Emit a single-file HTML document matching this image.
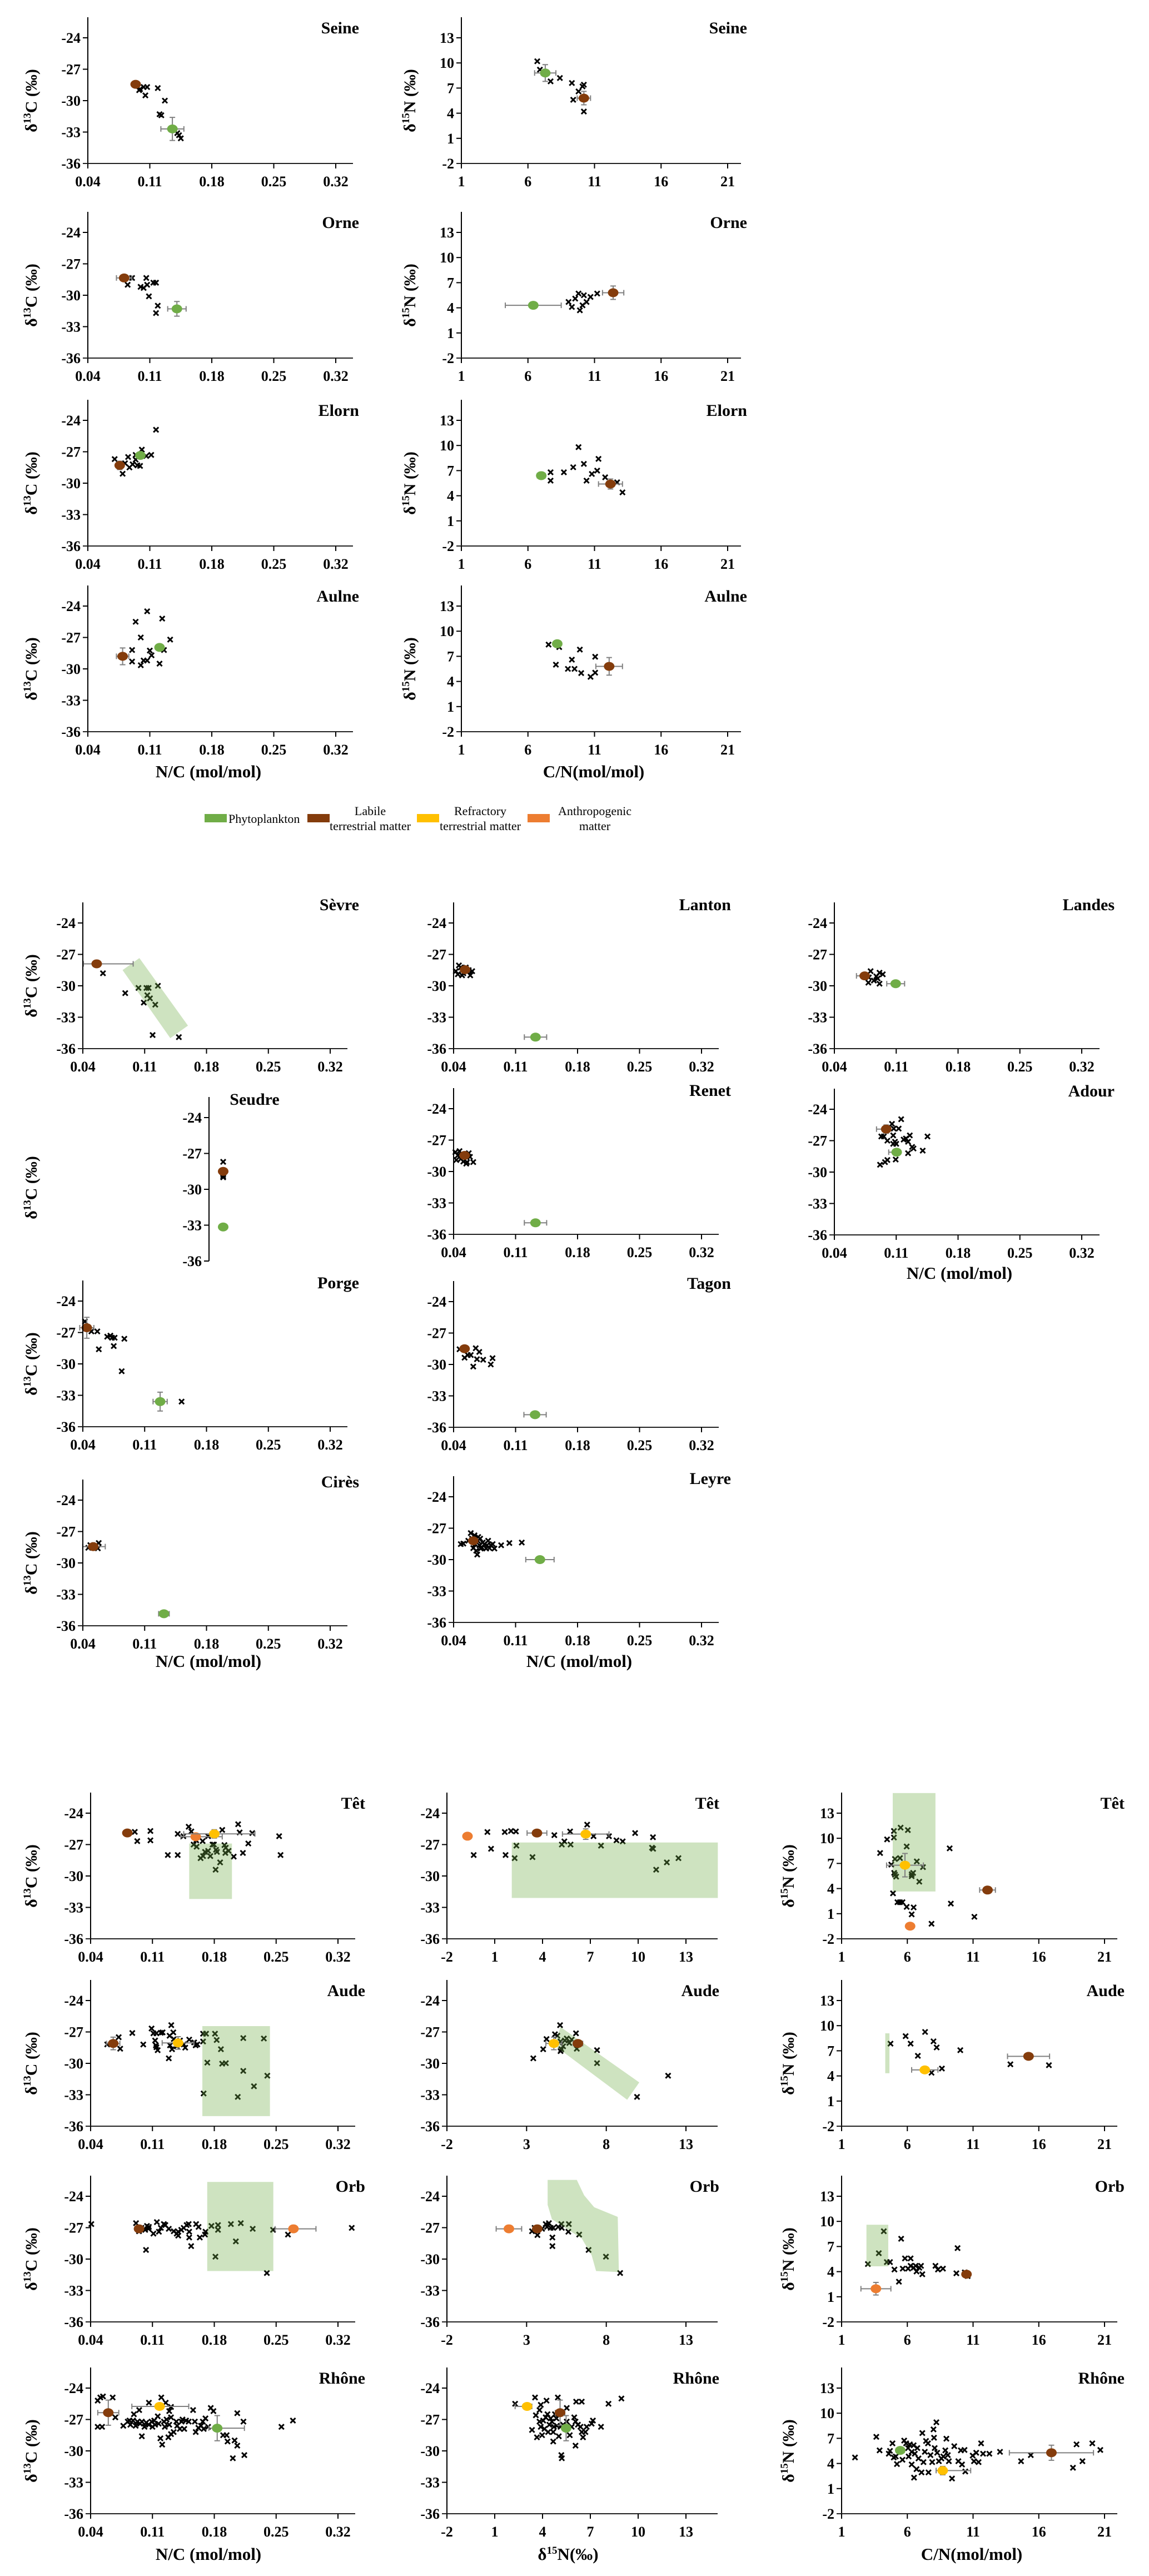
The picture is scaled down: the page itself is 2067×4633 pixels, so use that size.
<!DOCTYPE html>
<html><head><meta charset="utf-8"><title>Isotope panels</title>
<style>
html,body{margin:0;padding:0;background:#fff;}
svg{display:block;}
text{font-family:"Liberation Serif","Times New Roman",serif;}
</style></head>
<body>
<svg id="fig" width="2067" height="4633" viewBox="0 0 2067 4633" xmlns="http://www.w3.org/2000/svg"></svg>
<script>
// ---------- tick label arrays ----------
const ncTicks = [0.04, 0.11, 0.18, 0.25, 0.32];
const cnTicks = [1, 6, 11, 16, 21];
const d15TicksA = [-2, 1, 4, 7, 10, 13];
const d15TicksB = [-2, 3, 8, 13];
const c13Ticks = [-24, -27, -30, -33, -36];
const n15Ticks = [13, 10, 7, 4, 1, -2];

// ---------- data: crosses [x,y]; sources [type,x,y,exLeft,exRight,ey]; bands [[x,y]...] ----------
const seineNC = [[0.098,-29.0],[0.099,-28.9],[0.103,-28.7],[0.107,-28.7],[0.105,-29.5],[0.119,-28.8],[0.127,-30.0],[0.121,-31.3],[0.123,-31.4],[0.141,-33.1],[0.143,-33.3],[0.145,-33.6]];
const seineNCSrc = [["labile",0.094,-28.44,0,0,0],["phyto",0.1355,-32.7,0.013,0.013,1.1]];
const seineCN = [[6.7,10.2],[6.9,9.2],[7.7,7.8],[8.4,8.2],[9.3,7.6],[9.8,6.6],[10.1,7.2],[10.2,7.4],[9.4,5.6],[10.2,4.2]];
const seineCNSrc = [["phyto",7.3,8.8,0.8,0.8,1.0],["labile",10.2,5.8,0.5,0.5,0.8]];
const orneNC = [[0.090,-28.35],[0.085,-29.0],[0.0996,-29.2],[0.103,-29.3],[0.106,-28.35],[0.107,-29.0],[0.114,-28.8],[0.117,-28.8],[0.109,-30.1],[0.119,-31.0],[0.117,-31.7]];
const orneNCSrc = [["labile",0.081,-28.35,0.0087,0.0087,0],["phyto",0.1406,-31.3,0.0104,0.0104,0.7]];
const orneCN = [[9.55,5.1],[9.8,5.7],[10.2,5.5],[10.7,5.3],[10.4,4.7],[10.1,4.3],[9.3,4.1],[9.05,4.7],[11.2,5.7],[9.9,3.7]];
const orneCNSrc = [["phyto",6.4,4.3,2.1,2.1,0.4],["labile",12.4,5.8,0.8,0.8,0.8]];
const elornNC = [[0.0703,-27.7],[0.0793,-29.1],[0.082,-28.1],[0.0855,-27.5],[0.087,-28.5],[0.0906,-28.2],[0.094,-27.75],[0.096,-28.3],[0.099,-28.35],[0.101,-26.8],[0.106,-27.4],[0.1116,-27.3],[0.117,-24.9],[0.094,-27.3]];
const elornNCSrc = [["labile",0.076,-28.3,0.004,0.004,0.4],["phyto",0.0993,-27.35,0.004,0.004,0.3]];
const elornCN = [[6.9,6.4],[7.7,6.8],[8.7,6.8],[9.4,7.4],[9.8,9.8],[10.2,7.8],[10.8,6.6],[11.2,7.0],[11.8,6.2],[12.7,5.6],[13.1,4.4],[11.3,8.4],[7.7,5.8],[10.4,5.8]];
const elornCNSrc = [["phyto",7.0,6.4,0.3,0.3,0.3],["labile",12.2,5.4,0.9,0.9,0.6]];
const aulneNC = [[0.094,-25.5],[0.107,-24.5],[0.124,-25.2],[0.0998,-27.0],[0.133,-27.2],[0.090,-28.2],[0.090,-29.3],[0.0998,-29.65],[0.103,-29.2],[0.107,-29.2],[0.110,-28.25],[0.112,-28.7],[0.121,-29.5],[0.126,-28.2]];
const aulneNCSrc = [["labile",0.0793,-28.8,0.007,0.007,0.8],["phyto",0.121,-27.95,0,0,0]];
const aulneCN = [[7.55,8.4],[8.35,8.1],[9.9,7.8],[11.05,6.95],[8.1,6.0],[9.3,6.6],[9.0,5.5],[9.5,5.5],[10.0,5.0],[10.7,4.55],[11.05,5.05]];
const aulneCNSrc = [["phyto",8.2,8.5,0,0,0],["labile",12.1,5.8,1.0,1.0,1.05]];

const sevreNC = [[0.0628,-28.8],[0.088,-30.7],[0.103,-30.2],[0.112,-30.2],[0.1145,-30.2],[0.125,-30.0],[0.113,-30.9],[0.116,-31.2],[0.109,-31.6],[0.122,-31.8],[0.119,-34.7],[0.1487,-34.9]];
const sevreNCSrc = [["labile",0.0557,-27.9,0.015,0.0413,0]];
const sevreBand = [[0.085,-28.5],[0.104,-27.35],[0.159,-33.8],[0.139,-35.0]];
const seudreNC = [[0.056,-27.7],[0.056,-28.75],[0.056,-29.0],[0.056,-28.9]];
const seudreNCSrc = [["labile",0.056,-28.5,0,0,0],["phyto",0.056,-33.15,0,0,0]];
const porgeNC = [[0.0424,-25.95],[0.0497,-26.9],[0.0564,-26.9],[0.0676,-27.4],[0.0712,-27.3],[0.073,-27.5],[0.076,-27.5],[0.075,-28.3],[0.0581,-28.6],[0.087,-27.6],[0.084,-30.7],[0.1518,-33.6]];
const porgeNCSrc = [["labile",0.0445,-26.55,0.008,0.008,1.0],["phyto",0.1275,-33.6,0.008,0.008,0.9]];
const ciresNC = [[0.0462,-28.55],[0.0485,-28.3],[0.0552,-28.3],[0.058,-28.1],[0.057,-28.6]];
const ciresNCSrc = [["labile",0.0518,-28.44,0.012,0.0136,0.3],["phyto",0.1318,-34.85,0.006,0.006,0]];
const lantonNC = [[0.0425,-28.6],[0.046,-28.05],[0.048,-28.25],[0.051,-28.8],[0.0552,-28.6],[0.0588,-29.0],[0.061,-28.6],[0.0448,-28.9],[0.0496,-29.0],[0.0538,-28.25],[0.0571,-28.5]];
const lantonNCSrc = [["labile",0.0529,-28.46,0,0,0],["phyto",0.1325,-34.9,0.0126,0.0126,0]];
const renetNC = [[0.042,-28.15],[0.0448,-28.46],[0.0431,-28.9],[0.0481,-28.8],[0.051,-29.05],[0.0552,-29.1],[0.0571,-28.25],[0.0622,-29.1],[0.0585,-28.6],[0.0543,-29.25],[0.0467,-28.05]];
const renetNCSrc = [["labile",0.0524,-28.46,0,0,0],["phyto",0.1325,-34.9,0.0126,0.0126,0]];
const tagonNC = [[0.0467,-28.55],[0.0524,-29.35],[0.056,-29.1],[0.0594,-29.1],[0.065,-28.45],[0.069,-28.8],[0.0664,-29.5],[0.0734,-29.55],[0.0622,-30.2],[0.082,-30.0],[0.084,-29.4]];
const tagonNCSrc = [["labile",0.0524,-28.5,0.004,0.004,0],["phyto",0.132,-34.8,0.0126,0.0126,0]];
const leyreNC = [[0.0481,-28.52],[0.051,-28.47],[0.0594,-27.47],[0.0636,-27.68],[0.0678,-27.84],[0.070,-28.0],[0.0622,-28.9],[0.0656,-29.15],[0.0667,-29.52],[0.0692,-28.63],[0.072,-28.84],[0.0748,-28.52],[0.0768,-28.94],[0.079,-28.2],[0.0819,-28.63],[0.0841,-28.52],[0.0861,-28.94],[0.0937,-28.63],[0.103,-28.42],[0.117,-28.37],[0.0729,-28.37],[0.0644,-28.52],[0.0777,-28.63],[0.0805,-28.9],[0.0673,-28.2],[0.0608,-28.0],[0.0566,-28.2],[0.0706,-28.94]];
const leyreNCSrc = [["labile",0.0622,-28.2,0,0,0],["phyto",0.1375,-30.0,0.016,0.016,0]];
const landesNC = [[0.081,-28.6],[0.0785,-29.7],[0.0847,-29.5],[0.0875,-29.1],[0.0911,-28.75],[0.0948,-28.9],[0.0911,-29.8],[0.089,-29.3],[0.079,-29.2]];
const landesNCSrc = [["labile",0.0743,-29.05,0.0093,0,0],["phyto",0.1094,-29.8,0.0101,0.0101,0]];
const adourNC = [[0.1156,-24.95],[0.1052,-25.4],[0.1128,-25.85],[0.1072,-25.85],[0.1066,-26.5],[0.0931,-26.6],[0.096,-26.6],[0.100,-27.0],[0.1086,-27.1],[0.11,-27.3],[0.1066,-27.3],[0.1184,-26.9],[0.121,-26.8],[0.1234,-27.1],[0.1254,-26.5],[0.128,-27.6],[0.1296,-27.75],[0.1234,-28.2],[0.140,-27.95],[0.1454,-26.6],[0.1094,-28.8],[0.100,-28.85],[0.0973,-29.05],[0.0917,-29.3]];
const adourNCSrc = [["labile",0.0987,-25.9,0.011,0,0.4],["phyto",0.1105,-28.1,0.009,0,0]];

const tetNC = [[0.09,-25.79],[0.1077,-25.7],[0.0928,-26.67],[0.1077,-26.6],[0.1274,-28.0],[0.1386,-28.0],[0.1386,-25.98],[0.145,-26.2],[0.151,-25.3],[0.154,-25.75],[0.207,-25.06],[0.2087,-25.84],[0.223,-25.9],[0.2534,-26.2],[0.255,-28.0],[0.189,-25.6],[0.2185,-26.9],[0.2124,-27.8],[0.202,-28.15],[0.1915,-27.05],[0.193,-27.3],[0.1962,-27.6],[0.1566,-27.0],[0.16,-27.2],[0.1645,-28.3],[0.1673,-28.1],[0.1695,-27.7],[0.173,-27.6],[0.1755,-28.1],[0.178,-27.0],[0.182,-27.5],[0.183,-27.7],[0.1815,-29.4],[0.1866,-28.7],[0.1925,-27.8],[0.173,-26.2],[0.1668,-26.67],[0.1796,-27.0],[0.1595,-26.6]];
const tetNCSrc = [["labile",0.0816,-25.89,0,0,0],["anthro",0.159,-26.25,0.017,0.03,0],["refractory",0.18,-25.98,0.0346,0.046,0.4]];
const tetNCBand = [[0.1516,-26.9],[0.200,-26.9],[0.200,-32.2],[0.1516,-32.2]];
const audeNC = [[0.0588,-28.19],[0.0718,-27.5],[0.0735,-28.6],[0.0872,-27.1],[0.0996,-28.2],[0.109,-26.67],[0.1111,-27.13],[0.1145,-27.13],[0.1195,-27.08],[0.1215,-27.04],[0.1313,-26.35],[0.1336,-27.04],[0.1294,-27.36],[0.1341,-27.68],[0.1412,-27.82],[0.1454,-28.19],[0.1471,-28.5],[0.1516,-27.73],[0.1572,-28.0],[0.1589,-28.28],[0.1608,-28.19],[0.113,-27.82],[0.1139,-28.28],[0.1159,-28.74],[0.1145,-28.46],[0.1285,-29.52],[0.1299,-28.28],[0.1322,-28.65],[0.1375,-28.37],[0.1673,-27.17],[0.1707,-27.17],[0.1721,-29.93],[0.1808,-27.17],[0.1827,-27.77],[0.1875,-28.65],[0.1889,-30.03],[0.1931,-29.98],[0.1679,-32.88],[0.2066,-33.2],[0.2128,-27.59],[0.2128,-30.72],[0.2249,-32.19],[0.2361,-27.63],[0.24,-31.18],[0.1673,-27.91]];
const audeNCSrc = [["labile",0.0656,-28.1,0.0075,0.0075,0.6],["refractory",0.139,-28.05,0.018,0.018,0.6]];
const audeNCBand = [[0.1665,-26.44],[0.243,-26.44],[0.243,-35.04],[0.1665,-35.04]];
const orbNC = [[0.0408,-26.66],[0.0914,-26.57],[0.0948,-27.34],[0.0976,-27.02],[0.1038,-26.84],[0.1055,-27.11],[0.1018,-27.21],[0.1111,-27.57],[0.115,-26.47],[0.1173,-27.39],[0.1195,-27.02],[0.1229,-26.66],[0.1246,-26.75],[0.1027,-29.13],[0.1392,-27.39],[0.1392,-27.76],[0.1426,-27.21],[0.1454,-27.02],[0.1487,-26.75],[0.151,-26.66],[0.1516,-27.39],[0.1516,-27.94],[0.1538,-28.76],[0.1594,-26.66],[0.1622,-26.93],[0.1636,-27.94],[0.1701,-27.39],[0.1695,-27.66],[0.1768,-26.84],[0.1842,-26.75],[0.1842,-27.21],[0.1988,-26.66],[0.2044,-28.31],[0.21,-26.57],[0.2235,-27.11],[0.2465,-27.21],[0.2634,-27.66],[0.2395,-31.33],[0.1813,-29.77],[0.3356,-27.02],[0.1285,-27.11],[0.1341,-27.34],[0.106,-26.93],[0.1375,-27.57]];
const orbNCSrc = [["labile",0.0948,-27.11,0,0,0],["anthro",0.2696,-27.11,0.0208,0.0255,0.3]];
const orbNCBand = [[0.172,-22.63],[0.2468,-22.63],[0.2468,-31.14],[0.172,-31.14]];
const rhoneNC = [[0.048,-27.7],[0.053,-27.7],[0.048,-25.2],[0.051,-24.9],[0.054,-24.8],[0.065,-24.9],[0.068,-26.8],[0.077,-27.6],[0.082,-27.2],[0.085,-27.5],[0.088,-27.1],[0.089,-26.5],[0.091,-27.6],[0.093,-27.2],[0.095,-26.1],[0.098,-27.2],[0.098,-28.6],[0.101,-27.7],[0.103,-27.3],[0.106,-25.4],[0.109,-27.2],[0.110,-27.7],[0.112,-27.1],[0.113,-27.5],[0.116,-26.7],[0.117,-27.4],[0.119,-28.8],[0.120,-24.9],[0.121,-29.4],[0.123,-27.2],[0.124,-27.7],[0.125,-25.4],[0.126,-27.0],[0.129,-27.5],[0.129,-26.2],[0.131,-25.8],[0.131,-26.8],[0.128,-28.7],[0.131,-28.4],[0.134,-28.2],[0.137,-27.2],[0.138,-27.6],[0.141,-27.9],[0.144,-27.0],[0.146,-27.9],[0.148,-27.1],[0.151,-27.2],[0.156,-26.1],[0.158,-27.2],[0.159,-28.2],[0.162,-27.8],[0.165,-27.6],[0.167,-27.2],[0.168,-27.9],[0.170,-26.9],[0.173,-27.7],[0.176,-25.9],[0.179,-26.2],[0.190,-28.5],[0.194,-28.5],[0.195,-29.1],[0.203,-29.0],[0.206,-29.5],[0.206,-26.4],[0.213,-27.2],[0.201,-30.7],[0.214,-30.4],[0.256,-27.7],[0.269,-27.1],[0.096,-27.4],[0.106,-27.5],[0.084,-27.1],[0.143,-27.2]];
const rhoneNCSrc = [["labile",0.06,-26.35,0.0119,0.0119,1.2],["refractory",0.1181,-25.75,0.0314,0.033,0],["phyto",0.1833,-27.83,0.0095,0.0308,1.2]];

const tetD15 = [[-0.32,-28.0],[0.54,-25.8],[0.77,-27.4],[1.63,-25.8],[1.68,-28.0],[2.02,-25.7],[2.33,-25.75],[2.36,-27.1],[2.25,-28.3],[3.37,-28.2],[4.74,-26.1],[5.21,-27.0],[5.37,-26.7],[5.73,-25.75],[5.76,-27.0],[6.8,-25.1],[7.2,-26.2],[7.67,-27.1],[8.17,-26.2],[8.64,-26.6],[9.03,-26.7],[9.81,-25.9],[10.93,-26.3],[10.87,-27.3],[10.94,-27.4],[11.13,-29.4],[11.8,-28.7],[12.53,-28.3]];
const tetD15Src = [["anthro",-0.71,-26.2,0,0,0],["labile",3.65,-25.9,0.62,0.62,0],["refractory",6.71,-26.0,1.46,1.46,0.5]];
const tetD15Band = [[2.07,-26.8],[15.0,-26.8],[15.0,-32.1],[2.07,-32.1]];
const audeD15 = [[3.42,-29.52],[4.04,-28.65],[4.25,-27.68],[4.78,-27.22],[4.93,-27.36],[5.1,-26.35],[5.13,-27.91],[5.18,-28.65],[5.29,-28.37],[5.4,-27.82],[5.52,-27.63],[5.68,-28.05],[5.83,-27.73],[6.1,-27.13],[6.15,-28.6],[7.42,-28.74],[7.42,-29.98],[9.93,-33.2],[11.88,-31.18],[5.13,-28.83]];
const audeD15Src = [["refractory",4.71,-28.1,0.5,0.5,0.6],["labile",6.22,-28.1,0.3,0.3,0.3]];
const audeD15Band = [[5.13,-26.53],[10.07,-31.82],[9.31,-33.48],[4.74,-28.28]];
const orbD15 = [[3.34,-27.34],[3.5,-27.02],[3.68,-27.71],[3.97,-27.11],[4.2,-26.66],[4.28,-26.93],[4.4,-26.57],[4.51,-27.02],[4.67,-27.02],[4.62,-27.94],[4.62,-28.76],[4.98,-26.93],[5.18,-26.66],[5.21,-27.02],[5.65,-26.66],[5.62,-27.39],[6.3,-27.66],[6.89,-29.13],[7.98,-29.77],[8.87,-31.33]];
const orbD15Src = [["anthro",1.89,-27.11,0.8,0.8,0.3],["labile",3.67,-27.11,0,0,0]];
const orbD15Band = [[4.32,-22.44],[6.15,-22.44],[6.61,-23.91],[7.24,-25.05],[8.72,-25.97],[8.79,-31.24],[7.36,-31.14],[7.08,-29.63],[6.46,-28.03],[4.59,-26.2],[4.32,-24.82]];
const rhoneD15 = [[2.28,-25.5],[3.53,-24.9],[4.25,-25.2],[4.96,-24.9],[3.81,-26.1],[3.89,-25.6],[5.52,-25.9],[6.11,-25.3],[6.46,-25.3],[8.14,-25.5],[8.95,-25.0],[3.58,-26.6],[3.34,-28.0],[3.65,-28.7],[3.97,-28.5],[3.81,-27.2],[4.04,-27.1],[4.2,-26.8],[4.31,-26.5],[4.43,-27.5],[4.51,-26.9],[4.59,-27.2],[4.67,-28.2],[4.71,-27.7],[4.67,-29.1],[4.87,-26.9],[4.9,-27.6],[5.02,-28.6],[5.29,-27.5],[5.52,-27.2],[5.71,-28.5],[5.83,-27.7],[5.99,-26.8],[6.07,-27.2],[6.22,-27.5],[6.38,-27.7],[6.46,-28.2],[6.54,-28.7],[6.69,-28.2],[6.77,-27.7],[7.08,-27.4],[7.16,-27.1],[7.67,-27.7],[6.07,-29.5],[5.18,-30.4],[5.21,-30.7],[3.89,-27.7],[4.12,-27.9],[4.35,-28.2],[4.78,-26.5],[5.13,-27.7]];
const rhoneD15Src = [["refractory",3.03,-25.75,0.75,0.3,0],["labile",5.1,-26.35,0.3,0.3,1.2],["phyto",5.48,-27.83,0,0,1.2]];

const tetCN = [[3.93,8.24],[4.46,9.87],[4.98,10.87],[4.98,10.09],[5.49,11.27],[6.04,10.98],[5.95,9.02],[5.06,7.53],[5.44,7.64],[4.78,6.86],[5.0,5.87],[5.15,5.42],[5.06,5.65],[6.33,5.7],[6.44,5.87],[6.33,5.48],[6.72,7.24],[7.19,6.56],[6.91,4.82],[4.91,3.43],[5.25,2.37],[5.44,2.37],[5.63,2.37],[5.95,1.81],[6.48,1.75],[6.33,0.92],[7.84,-0.2],[9.22,8.8],[9.31,2.2],[11.1,0.63]];
const tetCNSrc = [["refractory",5.82,6.79,1.4,1.4,1.4],["labile",12.1,3.82,0.6,0.6,0.4],["anthro",6.21,-0.49,0,0,0]];
const tetCNBand = [[4.89,15.4],[8.14,15.4],[8.14,3.65],[4.89,3.65]];
const audeCN = [[4.72,7.85],[5.87,8.75],[6.25,7.85],[6.8,6.4],[7.35,9.25],[7.99,8.13],[8.23,7.4],[7.84,4.38],[8.63,4.88],[10.03,7.07],[13.84,5.39],[16.77,5.28]];
const audeCNSrc = [["refractory",7.33,4.72,1.0,1.0,0],["labile",15.22,6.34,1.6,1.6,0]];
const audeCNBand = [[4.32,9.08],[4.64,9.08],[4.64,4.32],[4.32,4.32]];
const orbCN = [[3.0,4.91],[3.83,6.2],[4.21,8.82],[4.44,5.14],[4.68,5.14],[5.02,4.25],[5.36,2.8],[5.53,7.93],[5.65,4.36],[5.82,5.58],[6.06,4.36],[6.25,5.58],[6.25,4.69],[6.48,4.47],[6.63,4.69],[6.7,4.02],[6.91,4.47],[7.04,4.69],[7.14,3.69],[8.14,4.69],[8.33,4.25],[8.71,4.36],[9.82,6.81],[9.73,3.8],[10.37,3.91],[10.59,3.47]];
const orbCNSrc = [["anthro",3.61,1.96,1.14,1.14,0.75],["labile",10.5,3.69,0,0,0]];
const orbCNBand = [[2.89,9.6],[4.55,9.6],[4.55,4.64],[2.89,4.64]];
const rhoneCN = [[2.02,4.72],[3.64,7.18],[3.89,5.56],[4.59,5.16],[4.68,5.5],[4.87,6.4],[4.97,4.72],[5.12,4.83],[5.21,3.93],[5.76,6.73],[5.91,6.4],[6.06,5.84],[6.19,6.28],[6.33,5.39],[6.48,6.17],[6.57,5.16],[6.33,3.88],[6.51,2.31],[6.7,3.32],[6.85,4.6],[7.08,2.93],[7.14,7.63],[7.33,5.39],[7.42,6.68],[7.57,6.4],[7.61,2.93],[7.76,5.0],[7.89,4.16],[7.99,8.07],[8.03,7.07],[8.21,8.91],[8.08,5.84],[8.27,5.28],[8.4,4.27],[8.59,4.6],[8.74,4.83],[8.89,5.56],[8.97,6.96],[9.08,5.0],[9.16,4.27],[9.4,2.2],[9.57,6.06],[9.88,4.27],[10.16,3.88],[10.07,5.56],[10.35,5.61],[10.41,3.04],[10.97,4.94],[11.07,4.27],[11.24,5.28],[11.42,4.16],[11.61,6.4],[11.76,5.16],[12.24,5.16],[13.05,5.39],[14.65,4.27],[15.39,5.0],[18.6,3.49],[18.87,6.28],[19.32,4.27],[20.07,6.4],[20.68,5.61],[7.23,4.16],[6.76,5.84],[6.1,4.83],[5.63,4.44]];
const rhoneCNSrc = [["phyto",5.46,5.56,0.3,0.3,0.4],["refractory",8.69,3.15,0.5,2.13,0.5],["labile",16.96,5.28,3.2,3.2,0.9]];

// ---------- layout (pixels) ----------
const COLORS = {phyto:"#70ad47", labile:"#843c0c", refractory:"#ffc000", anthro:"#ed7d31"};
const SVGNS = "http://www.w3.org/2000/svg";
const svg = document.getElementById('fig');

function mk(tag, attrs, parent){
  const e = document.createElementNS(SVGNS, tag);
  for (const k in attrs) e.setAttribute(k, attrs[k]);
  (parent||svg).appendChild(e);
  return e;
}

const XT = {
  nc:{d0:0.04,d1:0.32,ticks:ncTicks,fmt:v=>v.toFixed(2)},
  cn:{d0:1,d1:21,ticks:cnTicks,fmt:v=>String(v)},
  d15A:{d0:-2,d1:13,ticks:d15TicksA,fmt:v=>String(v)},
  d15B:{d0:-2,d1:13,ticks:d15TicksB,fmt:v=>String(v)}
};
const YT = {
  c13:{d0:-24,d1:-36,ticks:c13Ticks},
  n15:{d0:13,d1:-2,ticks:n15Ticks}
};

// col: x0 (axis), span (px from d0 to d1), xEnd, titleR
const C = {
  s1L:{x0:158,span:446,xEnd:635,titleR:646},
  s1R:{x0:830,span:479,xEnd:1333,titleR:1344},
  s2L:{x0:149,span:445,xEnd:625,titleR:646},
  s2M:{x0:816,span:446,xEnd:1293,titleR:1315},
  s2R:{x0:1501,span:445,xEnd:1978,titleR:2005},
  s3L:{x0:163,span:445,xEnd:639,titleR:657},
  s3M:{x0:804,span:430,xEnd:1291,titleR:1294},
  s3R:{x0:1514,span:473,xEnd:2010,titleR:2023}
};

const panels = [
  {id:"seine-nc",title:"Seine",col:C.s1L,ty:68,xt:"nc",yt:"c13",pts:seineNC,src:seineNCSrc,tOff:18},
  {id:"seine-cn",title:"Seine",col:C.s1R,ty:68,xt:"cn",yt:"n15",pts:seineCN,src:seineCNSrc,tOff:18},
  {id:"orne-nc",title:"Orne",col:C.s1L,ty:418,xt:"nc",yt:"c13",pts:orneNC,src:orneNCSrc,tOff:18},
  {id:"orne-cn",title:"Orne",col:C.s1R,ty:418,xt:"cn",yt:"n15",pts:orneCN,src:orneCNSrc,tOff:18},
  {id:"elorn-nc",title:"Elorn",col:C.s1L,ty:756,xt:"nc",yt:"c13",pts:elornNC,src:elornNCSrc,tOff:18},
  {id:"elorn-cn",title:"Elorn",col:C.s1R,ty:756,xt:"cn",yt:"n15",pts:elornCN,src:elornCNSrc,tOff:18},
  {id:"aulne-nc",title:"Aulne",col:C.s1L,ty:1090,xt:"nc",yt:"c13",pts:aulneNC,src:aulneNCSrc,tOff:18},
  {id:"aulne-cn",title:"Aulne",col:C.s1R,ty:1090,xt:"cn",yt:"n15",pts:aulneCN,src:aulneCNSrc,tOff:18},

  {id:"sevre-nc",title:"Sèvre",col:C.s2L,ty:1660,xt:"nc",yt:"c13",pts:sevreNC,src:sevreNCSrc,band:sevreBand,tOff:33},
  {id:"seudre-nc",title:"Seudre",col:{x0:376,span:446,xEnd:600,titleR:0,titleC:458},ty:2010,h:258,xt:"nc",yt:"c13",pts:seudreNC,src:seudreNCSrc,noX:true,tOff:33},
  {id:"porge-nc",title:"Porge",col:C.s2L,ty:2340,xt:"nc",yt:"c13",pts:porgeNC,src:porgeNCSrc,tOff:33},
  {id:"cires-nc",title:"Cirès",col:C.s2L,ty:2698,xt:"nc",yt:"c13",pts:ciresNC,src:ciresNCSrc,tOff:33},
  {id:"lanton-nc",title:"Lanton",col:C.s2M,ty:1660,xt:"nc",yt:"c13",pts:lantonNC,src:lantonNCSrc,tOff:33},
  {id:"renet-nc",title:"Renet",col:C.s2M,ty:1994,xt:"nc",yt:"c13",pts:renetNC,src:renetNCSrc,tOff:33},
  {id:"tagon-nc",title:"Tagon",col:C.s2M,ty:2341,xt:"nc",yt:"c13",pts:tagonNC,src:tagonNCSrc,tOff:33},
  {id:"leyre-nc",title:"Leyre",col:C.s2M,ty:2692,xt:"nc",yt:"c13",pts:leyreNC,src:leyreNCSrc,tOff:33},
  {id:"landes-nc",title:"Landes",col:C.s2R,ty:1660,xt:"nc",yt:"c13",pts:landesNC,src:landesNCSrc,tOff:33},
  {id:"adour-nc",title:"Adour",col:C.s2R,ty:1995,xt:"nc",yt:"c13",pts:adourNC,src:adourNCSrc,tOff:33},

  {id:"tet-nc",title:"Têt",col:C.s3L,ty:3261,xt:"nc",yt:"c13",pts:tetNC,src:tetNCSrc,band:tetNCBand,tOff:18},
  {id:"aude-nc",title:"Aude",col:C.s3L,ty:3598,xt:"nc",yt:"c13",pts:audeNC,src:audeNCSrc,band:audeNCBand,tOff:18},
  {id:"orb-nc",title:"Orb",col:C.s3L,ty:3950,xt:"nc",yt:"c13",pts:orbNC,src:orbNCSrc,band:orbNCBand,tOff:18},
  {id:"rhone-nc",title:"Rhône",col:C.s3L,ty:4295,xt:"nc",yt:"c13",pts:rhoneNC,src:rhoneNCSrc,tOff:18},
  {id:"tet-d15",title:"Têt",col:C.s3M,ty:3261,xt:"d15A",yt:"c13",pts:tetD15,src:tetD15Src,band:tetD15Band,tOff:18},
  {id:"aude-d15",title:"Aude",col:C.s3M,ty:3598,xt:"d15B",yt:"c13",pts:audeD15,src:audeD15Src,band:audeD15Band,tOff:18},
  {id:"orb-d15",title:"Orb",col:C.s3M,ty:3950,xt:"d15B",yt:"c13",pts:orbD15,src:orbD15Src,band:orbD15Band,tOff:18},
  {id:"rhone-d15",title:"Rhône",col:C.s3M,ty:4295,xt:"d15A",yt:"c13",pts:rhoneD15,src:rhoneD15Src,tOff:18},
  {id:"tet-cn",title:"Têt",col:C.s3R,ty:3261,xt:"cn",yt:"n15",pts:tetCN,src:tetCNSrc,band:tetCNBand,tOff:18},
  {id:"aude-cn",title:"Aude",col:C.s3R,ty:3598,xt:"cn",yt:"n15",pts:audeCN,src:audeCNSrc,band:audeCNBand,tOff:18},
  {id:"orb-cn",title:"Orb",col:C.s3R,ty:3950,xt:"cn",yt:"n15",pts:orbCN,src:orbCNSrc,band:orbCNBand,tOff:18},
  {id:"rhone-cn",title:"Rhône",col:C.s3R,ty:4295,xt:"cn",yt:"n15",pts:rhoneCN,src:rhoneCNSrc,tOff:18}
];

function drawPanel(p){
  const g = mk('g',{});
  
  
  const xt = XT[p.xt], yt = YT[p.yt], col = p.col;
  const h = p.h || 226;
  const sx = v => col.x0 + (v - xt.d0) / (xt.d1 - xt.d0) * col.span;
  const sy = v => p.ty + (v - yt.d0) / (yt.d1 - yt.d0) * h;
  const yBottom = sy(yt.d1), yTop = p.ty - 37;

  // band (drawn later over crosses)
  // crosses
  const cg = mk('g',{stroke:"#000","stroke-width":3,"stroke-linecap":"butt"}, g);
  
  
  p.pts.forEach(pt=>{
    const x = sx(pt[0]), y = sy(pt[1]), s = 4.5;
    const c = mk('path',{d:`M${x-s},${y-s}L${x+s},${y+s}M${x+s},${y-s}L${x-s},${y+s}`}, cg);
    
    
  });
  if (p.band){
    const poly = mk('polygon',{points:p.band.map(b=>sx(b[0])+','+sy(b[1])).join(' '),fill:"#70ad47","fill-opacity":0.34}, g);
    
    
  }
  // sources
  p.src.forEach(s=>{
    const x = sx(s[1]), y = sy(s[2]);
    if (s[3]||s[4]){
      const xl = sx(s[1]-s[3]), xr = sx(s[1]+s[4]);
      const eb = mk('path',{d:`M${xl},${y}L${xr},${y}`+(s[3]?`M${xl},${y-5}L${xl},${y+5}`:'')+(s[4]?`M${xr},${y-5}L${xr},${y+5}`:''),stroke:"#808080","stroke-width":2,fill:"none"}, g);
      
      
    }
    if (s[5]){
      const yt1 = sy(s[2]+s[5]), yb1 = sy(s[2]-s[5]);
      const eb = mk('path',{d:`M${x},${yt1}L${x},${yb1}M${x-5},${yt1}L${x+5},${yt1}M${x-5},${yb1}L${x+5},${yb1}`,stroke:"#808080","stroke-width":2,fill:"none"}, g);
      
      
    }
    const el = mk('ellipse',{cx:x,cy:y,rx:9.5,ry:8,fill:COLORS[s[0]]}, g);
    
    
  });
  // y axis
  const ya = mk('line',{x1:col.x0,y1:yTop,x2:col.x0,y2:yBottom,stroke:"#000","stroke-width":2}, g);
  
  
  yt.ticks.forEach(v=>{
    const y = sy(v);
    const tk = mk('line',{x1:col.x0-9,y1:y,x2:col.x0,y2:y,stroke:"#000","stroke-width":2}, g);
    
    
    const t = mk('text',{x:col.x0-13,y:y+9,"text-anchor":"end","font-size":26,"font-weight":"bold"}, g);
    t.textContent = String(v);
    
    
  });
  if (!p.noX){
    const xa = mk('line',{x1:col.x0-9,y1:yBottom,x2:col.xEnd,y2:yBottom,stroke:"#222","stroke-width":2}, g);
    
    
    xt.ticks.forEach(v=>{
      const x = sx(v);
      const tk = mk('line',{x1:x,y1:yBottom,x2:x,y2:yBottom+9,stroke:"#000","stroke-width":2}, g);
      
      
      const t = mk('text',{x:x,y:yBottom+41,"text-anchor":"middle","font-size":26,"font-weight":"bold"}, g);
      t.textContent = xt.fmt(v);
      
      
    });
  }
  const tt = col.titleC
    ? mk('text',{x:col.titleC,y:p.ty-p.tOff+10,"text-anchor":"middle","font-size":30,"font-weight":"bold"}, g)
    : mk('text',{x:col.titleR,y:p.ty-p.tOff+10,"text-anchor":"end","font-size":30,"font-weight":"bold"}, g);
  tt.textContent = p.title;
  
  
}
panels.forEach(drawPanel);

// ---------- axis titles ----------
function yTitle(x, cy, iso, el, name){
  const t = mk('text',{x:0,y:0,transform:`translate(${x},${cy}) rotate(-90)`,"text-anchor":"middle","font-size":30,"font-weight":"bold"});
  
  
  const a = mk('tspan',{}, t); a.textContent = "δ";
  const b = mk('tspan',{dy:-11,"font-size":19}, t); b.textContent = iso;
  const c = mk('tspan',{dy:11}, t); c.textContent = el + " (‰)";
}
[68,418,756,1090].forEach(ty=>{ yTitle(66, ty+113, "13", "C", "y-axis-title"); yTitle(747, ty+113, "15", "N", "y-axis-title"); });
[1660,2023,2340,2698].forEach(ty=>{ yTitle(66, ty+113, "13", "C", "y-axis-title"); });
[3261,3598,3950,4295].forEach(ty=>{ yTitle(66, ty+113, "13", "C", "y-axis-title"); yTitle(1428, ty+113, "15", "N", "y-axis-title"); });

function xTitle(x, y, txt, name){
  const t = mk('text',{x:x,y:y,"text-anchor":"middle","font-size":31,"font-weight":"bold"});
  t.textContent = txt;
  
  
  return t;
}
xTitle(375, 1398, "N/C (mol/mol)", "x-axis-title");
xTitle(1068, 1398, "C/N(mol/mol)", "x-axis-title");
xTitle(375, 2998, "N/C (mol/mol)", "x-axis-title");
xTitle(1042, 2998, "N/C (mol/mol)", "x-axis-title");
xTitle(1726, 2300, "N/C (mol/mol)", "x-axis-title");
xTitle(375, 4604, "N/C (mol/mol)", "x-axis-title");
(function(){
  const t = mk('text',{x:1022,y:4604,"text-anchor":"middle","font-size":31,"font-weight":"bold"});
  
  
  const a = mk('tspan',{}, t); a.textContent = "δ";
  const b = mk('tspan',{dy:-11,"font-size":19}, t); b.textContent = "15";
  const c = mk('tspan',{dy:11}, t); c.textContent = "N(‰)";
})();
xTitle(1748, 4604, "C/N(mol/mol)", "x-axis-title");

// ---------- legend ----------
const lg = mk('g',{"font-size":22});


function legBox(x, color, name){
  const r = mk('rect',{x:x,y:1464,width:40,height:15,fill:color}, lg);
  
  
}
function legText(x, y, txt, anchor, name){
  const t = mk('text',{x:x,y:y,"text-anchor":anchor}, lg);
  t.textContent = txt;
  
  
}
legBox(368, COLORS.phyto, 'legend-phytoplankton-swatch');
legText(411, 1480, "Phytoplankton", "start", 'legend-phytoplankton-label');
legBox(553, COLORS.labile, 'legend-labile-swatch');
legText(666, 1466, "Labile", "middle", 'legend-labile-label');
legText(666, 1493, "terrestrial matter", "middle", 'legend-labile-label-line2');
legBox(750, COLORS.refractory, 'legend-refractory-swatch');
legText(864, 1466, "Refractory", "middle", 'legend-refractory-label');
legText(864, 1493, "terrestrial matter", "middle", 'legend-refractory-label-line2');
legBox(949, COLORS.anthro, 'legend-anthropogenic-swatch');
legText(1070, 1466, "Anthropogenic", "middle", 'legend-anthropogenic-label');
legText(1070, 1493, "matter", "middle", 'legend-anthropogenic-label-line2');
</script>
</body></html>
